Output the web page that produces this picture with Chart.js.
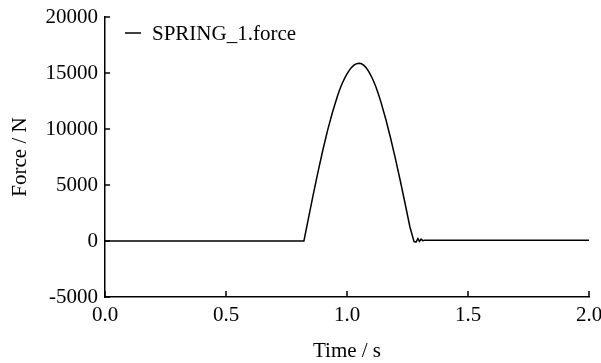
<!DOCTYPE html>
<html>
<head>
<meta charset="utf-8">
<style>
  html, body { margin: 0; padding: 0; background: #fff; }
  #wrap { width: 601px; height: 363px; }
</style>
<script src="https://cdn.jsdelivr.net/npm/chart.js@4/dist/chart.umd.min.js"></script>
</head>
<body>
<div id="wrap"><canvas id="forceChart" width="601" height="363"></canvas></div>
<script>
// values
var timeValues = [0.0, 0.822, 0.84, 0.86, 0.88, 0.90, 0.92, 0.94, 0.96, 0.97, 0.98, 0.99, 1.00, 1.01,
    1.02, 1.03, 1.04, 1.05, 1.06, 1.07, 1.08, 1.09, 1.10, 1.11, 1.12, 1.13, 1.14, 1.16, 1.18,
    1.20, 1.22, 1.24, 1.26, 1.277, 1.285, 1.293, 1.299, 1.306, 1.313, 1.32, 2.0];
var forceValues = [0, 0, 1950, 4100, 6150, 8100, 9900, 11500, 12900, 13520, 14060, 14520, 14920, 15260,
    15530, 15720, 15830, 15860, 15820, 15680, 15450, 15130, 14730, 14260, 13720, 13100, 12420, 10900, 9200,
    7350, 5400, 3350, 1250, -60, -100, 220, -40, 160, 30, 60, 60];
var xTicks = [0, 0.5, 1.0, 1.5, 2.0];
var yTicks = [-5000, 0, 5000, 10000, 15000, 20000];
var seriesLabel = 'SPRING_1.force';

var FONT = {family: '"Liberation Serif", "DejaVu Serif", serif', size: 21};

var points = timeValues.map(function(t, i){ return {x: t, y: forceValues[i]}; });

// inward tick marks + legend inside the plot
var extras = {
    id: 'extras',
    afterDraw: function(chart){
        var ctx = chart.ctx, area = chart.chartArea;
        var xs = chart.scales.x, ys = chart.scales.y;
        ctx.save();
        ctx.strokeStyle = '#000';
        ctx.lineWidth = 1.5;
        ctx.beginPath();
        xTicks.forEach(function(v){
            var px = xs.getPixelForValue(v);
            ctx.moveTo(px, area.bottom);
            ctx.lineTo(px, area.bottom - 6);
        });
        yTicks.forEach(function(v){
            var py = ys.getPixelForValue(v);
            ctx.moveTo(area.left, py);
            ctx.lineTo(area.left + 5, py);
        });
        ctx.stroke();

        var ly = area.top + 16;
        ctx.beginPath();
        ctx.moveTo(area.left + 20, ly);
        ctx.lineTo(area.left + 36, ly);
        ctx.stroke();
        ctx.fillStyle = '#000';
        ctx.font = FONT.size + 'px ' + FONT.family;
        ctx.textBaseline = 'middle';
        ctx.fillText(chart.data.datasets[0].label, area.left + 47, ly + 1);
        ctx.restore();
    }
};

new Chart(document.getElementById('forceChart'), {
    type: 'line',
    data: {
        datasets: [{
            label: seriesLabel,
            data: points,
            borderColor: '#000',
            borderWidth: 1.5,
            pointRadius: 0,
            tension: 0,
            fill: false
        }]
    },
    options: {
        responsive: false,
        animation: false,
        layout: {autoPadding: false, padding: {top: 17, right: 12, left: 0, bottom: 0}},
        plugins: {legend: {display: false}, tooltip: {enabled: false}},
        scales: {
            x: {
                type: 'linear',
                min: 0, max: 2,
                afterFit: function(s){ s.height = 66; s.paddingLeft = 0; s.paddingRight = 0; },
                afterBuildTicks: function(s){ s.ticks = xTicks.map(function(v){ return {value: v}; }); },
                grid: {display: false, drawTicks: false},
                border: {display: true, color: '#000', width: 1.5},
                ticks: {
                    color: '#000', font: FONT, padding: 6, maxRotation: 0, autoSkip: false,
                    callback: function(v){ return Number(v).toFixed(1); }
                },
                title: {display: true, text: 'Time / s', color: '#000',
                    font: {family: FONT.family, size: 21, lineHeight: 1.1}, padding: {top: 0, bottom: 0}}
            },
            y: {
                min: -5000, max: 20000,
                afterFit: function(s){ s.width = 105; s.paddingTop = 0; s.paddingBottom = 0; },
                afterBuildTicks: function(s){ s.ticks = yTicks.map(function(v){ return {value: v}; }); },
                grid: {display: false, drawTicks: false},
                border: {display: true, color: '#000', width: 1.5},
                ticks: {color: '#000', font: FONT, padding: 7, autoSkip: false,
                    callback: function(v){ return String(v); }},
                title: {display: true, text: 'Force / N', color: '#000', font: FONT, padding: {top: 8, bottom: 0}}
            }
        }
    },
    plugins: [extras]
});
</script>
</body>
</html>
